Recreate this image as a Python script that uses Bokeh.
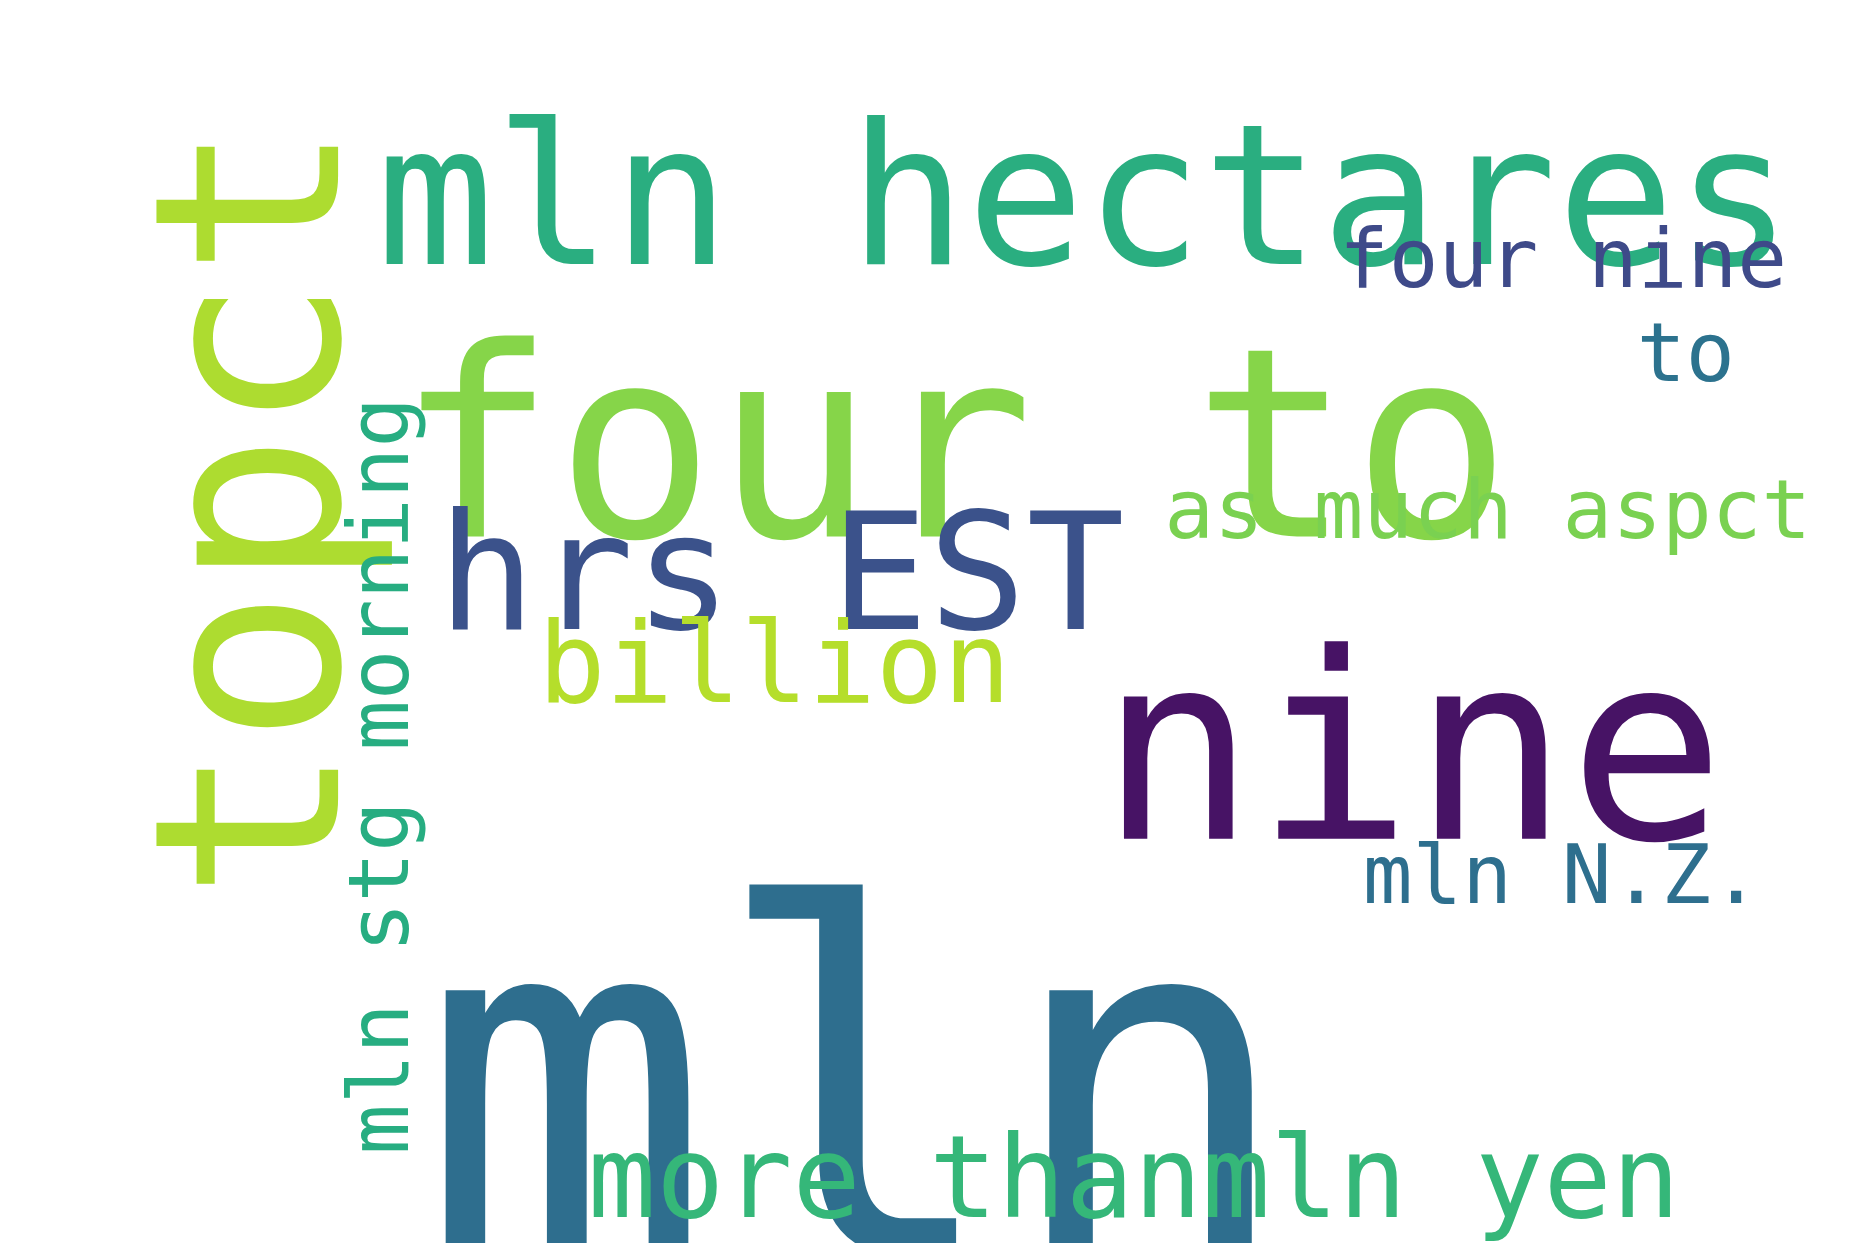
import math
from bokeh.plotting import figure
from bokeh.models import ColumnDataSource, Range1d
from bokeh.core.properties import value
from bokeh.embed import file_html
from bokeh.resources import INLINE

W, H = 1843, 1243
SX, SY = W / 1560, H / 1050

words = ["mln hectares", "four to", "topct", "hrs EST", "nine", "mln", "billion",
         "as much aspct", "four nine", "to", "mln N.Z.", "more thanmln yen", "mln stg morning"]
xs = [318, 335, 210, 370, 930, 355, 455, 985, 1133, 1385, 1153, 497, 320]
ys = [165, 375, 760, 483, 632, 918, 560, 430, 218, 297, 738, 995, 975]
sizes = [166, 224, 219, 138, 220, 410, 95, 70, 70, 69, 70, 96, 71]
vertical = [False, False, True, False, False, False, False, False, False, False, False, False, True]
colors = ["#2aae80", "#86d549", "#addc30", "#3b528b", "#471365", "#2e6e8e", "#b5de2b",
          "#7ad151", "#3e4a89", "#2c728e", "#2e6f8e", "#35b779", "#27ad81"]

src = ColumnDataSource(dict(
    x=[v * SX for v in xs], y=[H - v * SY for v in ys], text=words,
    size=["%.1fpx" % (s * SX) for s in sizes],
    angle=[math.pi / 2 if v else 0 for v in vertical],
    color=colors,
))

p = figure(width=W, height=H, output_backend="svg", toolbar_location=None,
           x_range=Range1d(0, W), y_range=Range1d(0, H), min_border=0)
p.axis.visible = False
p.grid.visible = False
p.outline_line_color = None
p.text(x="x", y="y", text="text", angle="angle", text_color="color",
       text_font_size="size", text_font=value("DejaVu Sans Mono"),
       text_baseline="alphabetic", text_align="left", source=src)

open("out.html", "w").write(file_html(p, INLINE))
